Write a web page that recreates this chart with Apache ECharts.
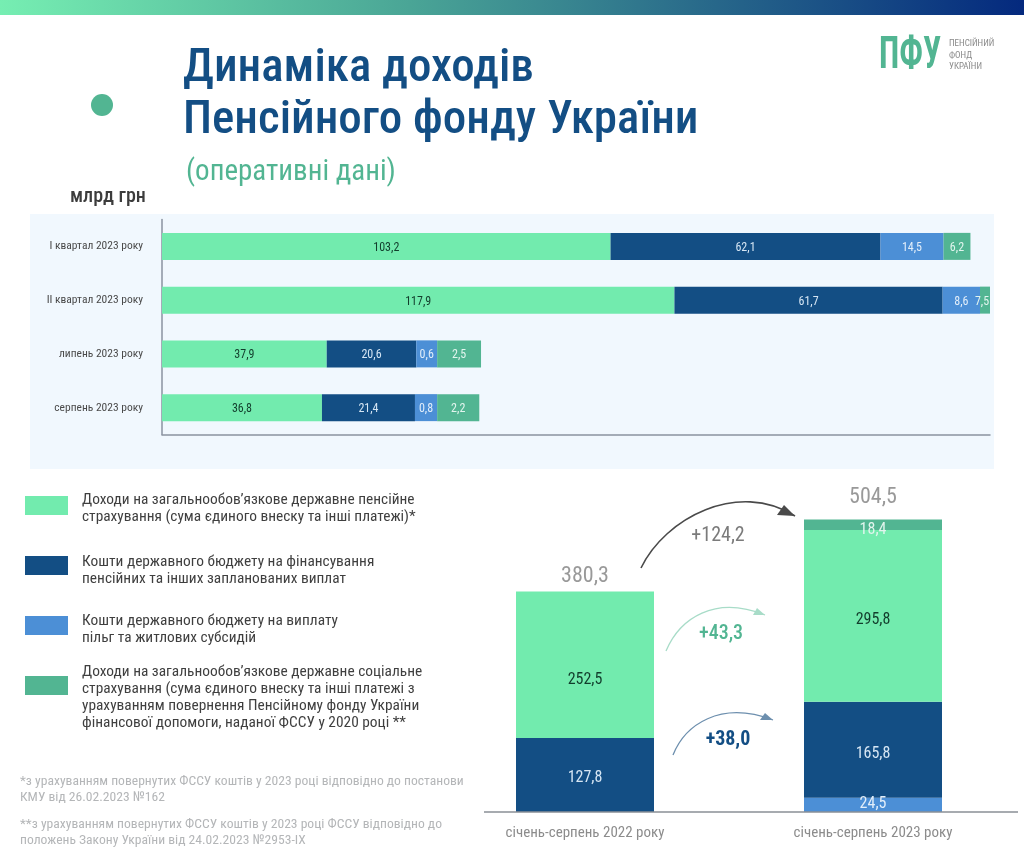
<!DOCTYPE html>
<html>
<head>
<meta charset="utf-8">
<script src="https://cdn.jsdelivr.net/npm/echarts@6/dist/echarts.min.js"></script>
<style>
html, body { margin: 0; padding: 0; background: #fff; }
#main { width: 1024px; height: 858px; }
</style>
</head>
<body>
<div id="main"></div>
<script>
var periods = ['I квартал 2023 року', 'II квартал 2023 року', 'липень 2023 року', 'серпень 2023 року'];
var pensionPeriods = [103.2, 117.9, 37.9, 36.8];
var budgetPeriods = [62.1, 61.7, 20.6, 21.4];
// the source draws the small segments wider or narrower than their printed value,
// so what is drawn and what is printed are kept apart
var benefitsPrinted = [14.5, 8.6, 0.6, 0.8];
var benefitsDrawn = [14.5, 8.6, 4.8, 5.1];
var socialPrinted = [6.2, 7.5, 2.5, 2.2];
var socialDrawn = [6.2, 2.3, 10.1, 9.7];

var years = ['січень-серпень 2022 року', 'січень-серпень 2023 року'];
var benefitsYears = [null, 24.5];
var budgetYears = [127.8, 165.8];
var pensionYears = [252.5, 295.8];
var socialYears = [null, 18.4];
var totalYears = [380.3, 504.5];

var legendNames = [
    'Доходи на загальнообов\u2019язкове державне пенсійне\nстрахування (сума єдиного внеску та інші платежі)*',
    'Кошти державного бюджету на фінансування\nпенсійних та інших запланованих виплат',
    'Кошти державного бюджету на виплату\nпільг та житлових субсидій',
    'Доходи на загальнообов\u2019язкове державне соціальне\nстрахування (сума єдиного внеску та інші платежі з\nурахуванням повернення Пенсійному фонду України\nфінансової допомоги, наданої ФССУ у 2020 році **'
];

var MINT = '#72ebae', NAVY = '#134e84', BLUE = '#4c8fd6', TEAL = '#52b592';
var FONT = '"Roboto Condensed"';

function comma(v) {
    return String(v.toFixed(1)).replace('.', ',');
}

function periodSeries(name, values, printed, color, textColor, nudge) {
    return {
        name: name, type: 'bar', stack: 'periods', xAxisIndex: 0, yAxisIndex: 0,
        barWidth: 27,
        data: values.map(function (v, i) {
            return { value: v, label: { offset: [nudge ? nudge[i] : 0, 1.5] } };
        }),
        itemStyle: { color: color },
        label: {
            show: true, position: 'inside', color: textColor,
            fontFamily: FONT, fontSize: 12,
            formatter: function (p) { return comma(printed[p.dataIndex]); }
        }
    };
}

function yearSeries(name, values, color, textColor, nudge) {
    return {
        name: name, type: 'bar', stack: 'years', xAxisIndex: 1, yAxisIndex: 1,
        barWidth: 138,
        data: values.map(function (v, i) {
            return { value: v, label: { offset: [0, nudge[i]] } };
        }),
        itemStyle: { color: color },
        label: {
            show: true, position: 'inside', color: textColor,
            fontFamily: FONT, fontSize: 16,
            formatter: function (p) { return comma(p.value); }
        }
    };
}

function txt(x, y, text, size, color, extra) {
    extra = extra || {};
    return {
        type: 'text', z: 100, x: x, y: y, scaleX: extra.scaleX || 1,
        style: {
            text: text, fill: color,
            font: (extra.weight ? extra.weight + ' ' : '') + size + 'px ' + FONT,
            align: extra.align || 'left',
            verticalAlign: 'middle',
            lineHeight: extra.lineHeight
        }
    };
}

function arrow(x0, y0, c1x, c1y, c2x, c2y, x1, y1, color, width, head) {
    return [{
        type: 'bezierCurve', z: 50,
        shape: { x1: x0, y1: y0, cpx1: c1x, cpy1: c1y, cpx2: c2x, cpy2: c2y, x2: x1, y2: y1 },
        style: { stroke: color, lineWidth: width, fill: null }
    }, {
        type: 'polygon', z: 51,
        shape: { points: head },
        style: { fill: color }
    }];
}

var swatchColors = [MINT, NAVY, BLUE, TEAL];
var swatchTops = [496, 556, 616, 676];
var legendTextY = [509, 571, 630, 697.5];

var graphics = [
    { type: 'rect', z: -10, shape: { x: 0, y: 0, width: 1024, height: 15 },
      style: { fill: new echarts.graphic.LinearGradient(0, 0, 1, 0, [
          { offset: 0, color: '#76eeb2' }, { offset: 0.4, color: '#4aa596' },
          { offset: 1, color: '#04297e' }]) } },
    { type: 'rect', z: -10, shape: { x: 30, y: 214, width: 964, height: 255 }, style: { fill: '#f1f8fe' } },
    { type: 'circle', z: 10, shape: { cx: 102, cy: 105, r: 11 }, style: { fill: TEAL } },
    txt(183, 69, 'Динаміка доходів', 47, NAVY, { weight: 500 }),
    txt(183, 121, 'Пенсійного фонду України', 47, NAVY, { weight: 500 }),
    txt(186, 173, '(оперативні дані)', 29, TEAL),
    txt(70, 197, 'млрд грн', 20, '#3c3c3c', { weight: 500 }),
    txt(879, 57, 'ПФУ', 45, TEAL, { weight: 'bold', scaleX: 0.73 }),
    txt(949, 44, 'ПЕНСІЙНИЙ', 9, '#8a8a8a'),
    txt(949, 56, 'ФОНД', 9, '#8a8a8a'),
    txt(949, 67, 'УКРАЇНИ', 9, '#8a8a8a'),
    { type: 'line', z: 40, shape: { x1: 484, y1: 812, x2: 1018, y2: 812 }, style: { stroke: '#8a8f96', lineWidth: 1.5 } },
    txt(718, 536, '+124,2', 20, '#7b7b7b', { align: 'center' }),
    txt(721, 634, '+43,3', 20, TEAL, { align: 'center', weight: 500 }),
    txt(728, 740, '+38,0', 20, NAVY, { align: 'center', weight: 'bold' }),
    txt(20, 789.5, '*з урахуванням повернутих ФССУ коштів у 2023 році відповідно до постанови\nКМУ від 26.02.2023 №162', 13.6, '#b4b6b8', { lineHeight: 15.5 }),
    txt(20, 832.5, '**з урахуванням повернутих ФССУ коштів у 2023 році ФССУ відповідно до\nположень Закону України від 24.02.2023 №2953-IX', 13.6, '#b4b6b8', { lineHeight: 15.5 })
];

legendNames.forEach(function (name, i) {
    graphics.push({ type: 'rect', z: 10, shape: { x: 25, y: swatchTops[i], width: 43, height: 19 }, style: { fill: swatchColors[i] } });
    graphics.push(txt(82, legendTextY[i], name, 15.4, '#3f3f3f', { lineHeight: 17 }));
});

graphics = graphics
    .concat(arrow(641, 568, 665, 518, 738, 480, 795, 516, '#4a4a4a', 1.6, [[795, 516], [777, 515], [784, 505]]))
    .concat(arrow(666, 651, 680, 618, 715, 595, 765, 615, '#a8dcc8', 1.3, [[765, 615], [753, 615], [757, 608]]))
    .concat(arrow(673, 755, 685, 725, 720, 700, 773, 720, '#6d8fae', 1.3, [[773, 720], [760, 720], [765, 713]]));

var chart = echarts.init(document.getElementById('main'));
chart.setOption({
    animation: false,
    backgroundColor: '#fff',
    graphic: graphics,
    grid: [
        { left: 162, top: 219.5, width: 828, height: 215 },
        { left: 441, top: 510.4, width: 576, height: 301.6 }
    ],
    xAxis: [{
        type: 'value', gridIndex: 0, min: 0, max: 190.5,
        splitLine: { show: false }, axisLabel: { show: false }, axisTick: { show: false },
        axisLine: { show: true, lineStyle: { color: '#8a93a0', width: 1.5 } }
    }, {
        type: 'category', gridIndex: 1, data: years,
        axisLine: { show: false }, axisTick: { show: false },
        axisLabel: { color: '#8c8c8c', fontFamily: FONT, fontSize: 15, margin: 14 }
    }],
    yAxis: [{
        type: 'category', gridIndex: 0, data: periods, inverse: true,
        axisTick: { show: false },
        axisLine: { show: true, lineStyle: { color: '#8a93a0', width: 1.5 } },
        axisLabel: { color: '#4a4a4a', fontFamily: FONT, fontSize: 11.5, margin: 19, padding: [4, 0, 0, 0] }
    }, {
        type: 'value', gridIndex: 1, min: 0, max: 520, show: false, splitLine: { show: false }
    }],
    series: [
        periodSeries('pension', pensionPeriods, pensionPeriods, MINT, '#123d2c'),
        periodSeries('budget', budgetPeriods, budgetPeriods, NAVY, '#d6e6f4'),
        periodSeries('benefits', benefitsDrawn, benefitsPrinted, BLUE, '#e2eefa'),
        periodSeries('social', socialDrawn, socialPrinted, TEAL, '#e2f5ee', [0, -3, 0, 0]),
        yearSeries('benefits', benefitsYears, BLUE, '#e2eefa', [0, -1]),
        yearSeries('budget', budgetYears, NAVY, '#d6e6f4', [3, 4]),
        yearSeries('pension', pensionYears, MINT, '#123d2c', [15, 4]),
        yearSeries('social', socialYears, TEAL, '#e2f5ee', [0, 5]),
        {
            name: 'total', type: 'scatter', xAxisIndex: 1, yAxisIndex: 1,
            symbolSize: 1, itemStyle: { color: 'rgba(0,0,0,0)' },
            data: totalYears.map(function (v, i) {
                return {
                    value: v,
                    label: {
                        show: true, position: 'top', distance: i ? 10 : 3,
                        color: '#808080', fontFamily: FONT, fontSize: 22,
                        formatter: comma(v)
                    }
                };
            })
        }
    ]
});
</script>
</body>
</html>
